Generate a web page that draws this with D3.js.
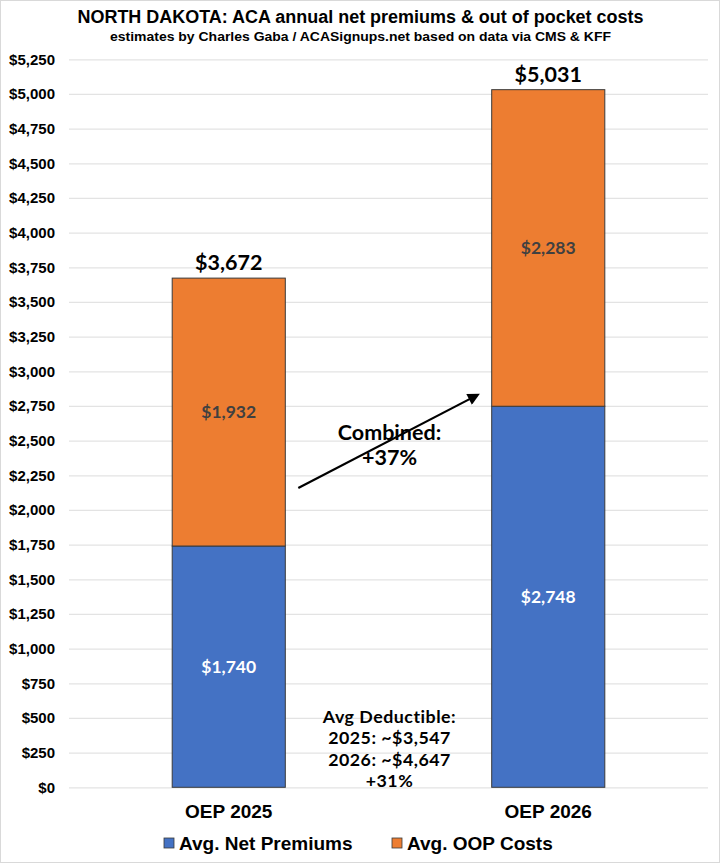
<!DOCTYPE html>
<html>
<head>
<meta charset="utf-8">
<script src="https://cdn.jsdelivr.net/npm/d3@7"></script>
<style>
  body { margin: 0; background: #fff; }
  svg { display: block; }
</style>
</head>
<body>
<div id="chart"></div>
<script>
// ── Data ────────────────────────────────────────────────────────────────
const categories = ["OEP 2025", "OEP 2026"];
const netPremiums = [1740, 2748];
const oopCosts = [1932, 2283];
const seriesNames = ["Avg. Net Premiums", "Avg. OOP Costs"];
const seriesColors = ["#4472C4", "#ED7D31"];
const segmentLabelColors = ["#ffffff", "#404040"];
const yTicks = d3.range(0, 5251, 250);
const deductibleLines = ["Avg Deductible:", "2025: ~$3,547", "2026: ~$4,647", "+31%"];
const combinedLines = ["Combined:", "+37%"];

const width = 721;
const height = 864;
const margin = { top: 59.3, right: 13, bottom: 76.7, left: 69 };

const svg = d3.select("#chart").append("svg")
    .attr("width", width)
    .attr("height", height);

// outer chart border
svg.append("rect")
    .attr("x", 0.5).attr("y", 0.5)
    .attr("width", width - 2).attr("height", height - 2)
    .attr("fill", "#fff")
    .attr("stroke", "#d9d9d9");

const x = d3.scaleBand()
    .domain(categories)
    .range([margin.left, width - margin.right])
    .paddingInner(0.646)
    .paddingOuter(0.323);

const y = d3.scaleLinear()
    .domain([0, 5250])
    .range([height - margin.bottom, margin.top]);

const rows = categories.map((c, i) => ({ cat: c, net: netPremiums[i], oop: oopCosts[i] }));
const stacked = d3.stack().keys(["net", "oop"])(rows);

// ── Gridlines & y labels ────────────────────────────────────────────────
const yAxis = svg.append("g")
    .attr("transform", `translate(${margin.left},0)`)
    .call(d3.axisLeft(y)
        .tickValues(yTicks)
        .tickSize(-(width - margin.left - margin.right))
        .tickPadding(14)
        .tickFormat(d => "$" + d3.format(",")(d)));

yAxis.select(".domain").remove();
yAxis.selectAll(".tick line").attr("stroke", "#e3e3e3").attr("stroke-width", 1.2);
yAxis.selectAll(".tick text")
    .attr("fill", "#000")
    .attr("font-family", "'Liberation Sans', Arial, sans-serif")
    .attr("font-weight", "bold")
    .attr("font-size", "15px");

// ── Bars ────────────────────────────────────────────────────────────────
const layer = svg.append("g")
    .selectAll("g")
    .data(stacked)
    .join("g")
    .attr("fill", (d, i) => seriesColors[i]);

layer.selectAll("rect")
    .data(d => d)
    .join("rect")
    .attr("x", d => x(d.data.cat))
    .attr("y", d => y(d[1]))
    .attr("width", x.bandwidth())
    .attr("height", d => y(d[0]) - y(d[1]))
    .attr("stroke", "#3a3a3a")
    .attr("stroke-width", 1);

const labelFont = "Lato, 'Open Sans', sans-serif";

// segment labels
layer.each(function(s, si) {
    d3.select(this).selectAll("text")
        .data(s)
        .join("text")
        .attr("x", d => x(d.data.cat) + x.bandwidth() / 2)
        .attr("y", d => y((d[0] + d[1]) / 2))
        .attr("dy", "0.35em")
        .attr("text-anchor", "middle")
        .attr("fill", segmentLabelColors[si])
        .attr("font-family", labelFont)
        .attr("font-weight", "bold")
        .attr("font-size", "17.5px")
        .text(d => "$" + d3.format(",")(d[1] - d[0]));
});

// totals
svg.append("g")
    .selectAll("text")
    .data(stacked[1])
    .join("text")
    .attr("x", d => x(d.data.cat) + x.bandwidth() / 2)
    .attr("y", d => y(d[1]) - 8)
    .attr("text-anchor", "middle")
    .attr("fill", "#000")
    .attr("font-family", labelFont)
    .attr("font-weight", "bold")
    .attr("font-size", "21.5px")
    .text(d => "$" + d3.format(",")(d[1]));

// ── Category labels ─────────────────────────────────────────────────────
svg.append("g")
    .selectAll("text")
    .data(categories)
    .join("text")
    .attr("x", d => x(d) + x.bandwidth() / 2)
    .attr("y", 818)
    .attr("text-anchor", "middle")
    .attr("font-family", "'Liberation Sans', Arial, sans-serif")
    .attr("font-weight", "bold")
    .attr("font-size", "19px")
    .text(d => d);

// ── Title ───────────────────────────────────────────────────────────────
svg.append("text")
    .attr("x", width / 2)
    .attr("y", 23)
    .attr("text-anchor", "middle")
    .attr("font-family", "'Liberation Sans Narrow', 'Liberation Sans', Arial, sans-serif")
    .attr("font-weight", "bold")
    .attr("font-size", "18px")
    .attr("textLength", 566)
    .attr("lengthAdjust", "spacingAndGlyphs")
    .text("NORTH DAKOTA: ACA annual net premiums & out of pocket costs");

svg.append("text")
    .attr("x", width / 2)
    .attr("y", 41)
    .attr("text-anchor", "middle")
    .attr("font-family", "'Liberation Sans Narrow', 'Liberation Sans', Arial, sans-serif")
    .attr("font-weight", "bold")
    .attr("font-size", "13px")
    .attr("textLength", 501)
    .attr("lengthAdjust", "spacingAndGlyphs")
    .text("estimates by Charles Gaba / ACASignups.net based on data via CMS & KFF");

// ── Annotations ─────────────────────────────────────────────────────────
svg.append("defs").append("marker")
    .attr("id", "arrow")
    .attr("viewBox", "0 0 10 10")
    .attr("refX", 8).attr("refY", 5)
    .attr("markerWidth", 7).attr("markerHeight", 5.5)
    .attr("orient", "auto")
    .append("path")
    .attr("d", "M0,0 L10,5 L0,10 z")
    .attr("fill", "#000");

const bandEnd1 = x(categories[0]) + x.bandwidth();
const bandStart2 = x(categories[1]);

svg.append("line")
    .attr("x1", bandEnd1 + 13).attr("y1", y(2158))
    .attr("x2", bandStart2 - 14).attr("y2", y(2830))
    .attr("stroke", "#000")
    .attr("stroke-width", 2.2)
    .attr("marker-end", "url(#arrow)");

const midX = (bandEnd1 + bandStart2) / 2;

svg.append("text")
    .attr("x", midX + 1)
    .attr("y", 440)
    .attr("text-anchor", "middle")
    .attr("font-family", labelFont)
    .attr("font-weight", "bold")
    .attr("font-size", "21.5px")
    .selectAll("tspan")
    .data(combinedLines)
    .join("tspan")
    .attr("x", midX + 1)
    .attr("dy", (d, i) => i === 0 ? 0 : 24.5)
    .text(d => d);

svg.append("text")
    .attr("x", midX + 1)
    .attr("y", 723)
    .attr("text-anchor", "middle")
    .attr("font-family", labelFont)
    .attr("font-weight", "bold")
    .attr("font-size", "17.8px")
    .attr("letter-spacing", "0.5px")
    .selectAll("tspan")
    .data(deductibleLines)
    .join("tspan")
    .attr("x", midX + 1)
    .attr("dy", (d, i) => i === 0 ? 0 : 21.4)
    .text(d => d);

// ── Legend ──────────────────────────────────────────────────────────────
const legendX = [164, 392];
const legend = svg.append("g")
    .selectAll("g")
    .data(seriesNames)
    .join("g")
    .attr("transform", (d, i) => `translate(${legendX[i]},${838})`);

legend.append("rect")
    .attr("width", 10).attr("height", 10)
    .attr("fill", (d, i) => seriesColors[i])
    .attr("stroke", "#3a3a3a")
    .attr("stroke-width", 0.8);

legend.append("text")
    .attr("x", 15)
    .attr("y", 5)
    .attr("dy", "0.36em")
    .attr("font-family", "'Liberation Sans', Arial, sans-serif")
    .attr("font-weight", "bold")
    .attr("font-size", "19px")
    .text(d => d);
</script>
</body>
</html>
